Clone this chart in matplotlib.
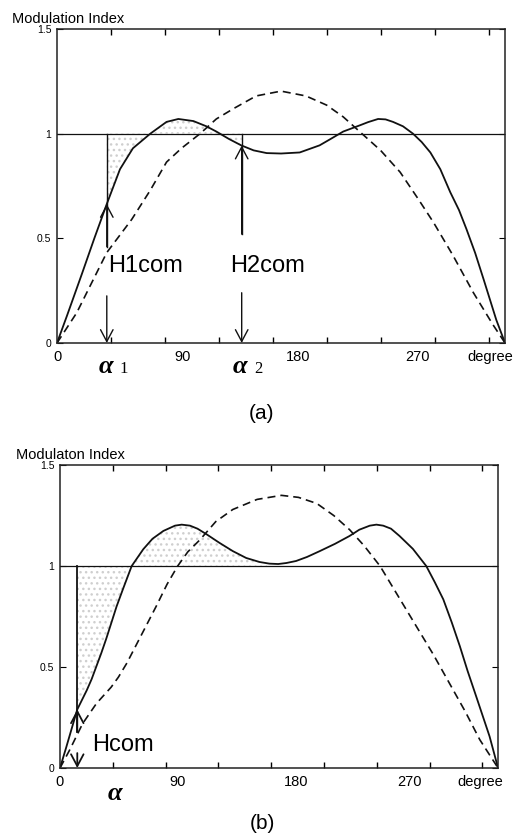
import matplotlib
matplotlib.use("Agg")
import matplotlib.pyplot as plt
import numpy as np

plt.rcParams.update({
    "font.family": ["Liberation Sans", "DejaVu Sans"],
    "xtick.direction": "in", "ytick.direction": "in",
    "axes.edgecolor": "#222222", "axes.linewidth": 1.1,
})

INK = "#111111"
HATCH = "#cfcfcf"

# ---- panel (a) data: degree vs modulation index ----
a_solid_x = [0, 8, 20, 30, 40, 50.6, 61, 75, 88, 97.5, 109.6, 120, 128, 138, 148, 158,
             168.5, 180, 195, 211, 220, 230, 243.5, 250, 258, 264, 270, 278, 286, 293,
             300, 308, 316, 323, 329, 336, 343, 353, 360]
a_solid_y = [0, 0.13, 0.33, 0.50, 0.664, 0.83, 0.93, 1.0, 1.056, 1.07, 1.06, 1.035, 1.01,
             0.975, 0.944, 0.92, 0.907, 0.905, 0.91, 0.944, 0.975, 1.01, 1.04, 1.055, 1.07,
             1.068, 1.056, 1.035, 1.0, 0.96, 0.91, 0.83, 0.72, 0.635, 0.544, 0.43, 0.30,
             0.11, 0]
a_dash_x = [0, 15.8, 40, 60, 75, 88, 100, 115, 128, 142, 160, 180, 200, 216.7, 230,
            243.5, 260, 275.7, 290, 302.5, 318, 334.6, 350, 360]
a_dash_y = [0, 0.144, 0.432, 0.59, 0.73, 0.864, 0.93, 1.0, 1.07, 1.12, 1.18, 1.203, 1.18,
            1.136, 1.08, 1.008, 0.92, 0.816, 0.69, 0.576, 0.42, 0.24, 0.09, 0]
a_alpha = [40, 148.4]

# ---- panel (b) data ----
b_solid_x = [0, 5, 14.2, 22, 26, 30, 34, 38, 42, 46.5, 52, 58.9, 68.4, 76, 85, 94.5, 100,
             106.8, 113, 120.5, 131, 142, 153, 164, 172, 179.3, 186, 194, 203, 213.5, 226,
             238, 246, 254.6, 260, 265.6, 272, 279, 290, 301, 308, 315, 322, 328.6, 335,
             342, 353, 360]
b_solid_y = [0, 0.1, 0.29, 0.385, 0.44, 0.505, 0.57, 0.64, 0.715, 0.80, 0.89, 1.0, 1.083,
             1.135, 1.174, 1.20, 1.205, 1.20, 1.185, 1.157, 1.115, 1.074, 1.04, 1.02, 1.012,
             1.01, 1.015, 1.025, 1.045, 1.074, 1.11, 1.149, 1.18, 1.20, 1.205, 1.20, 1.185,
             1.149, 1.085, 1.0, 0.92, 0.835, 0.72, 0.603, 0.48, 0.355, 0.157, 0]
b_dash_x = [0, 8, 18.6, 30, 42, 48, 55, 61, 67, 79, 88, 96.7, 105, 115, 128, 142, 162, 182,
            196, 211, 225, 238, 250, 263, 278, 293, 307, 320, 333, 345, 360]
b_dash_y = [0, 0.09, 0.22, 0.32, 0.40, 0.45, 0.52, 0.59, 0.66, 0.80, 0.91, 1.0, 1.07, 1.13,
            1.22, 1.28, 1.33, 1.35, 1.34, 1.31, 1.25, 1.18, 1.10, 1.0, 0.85, 0.70, 0.56,
            0.42, 0.28, 0.14, 0]
b_alpha = [14.2]
b_fill_end = 170

TICK_STEP = 43.4
a_xtick_pos = [0, 101, 194, 290, 348]
b_xtick_pos = [0, 97, 194, 287, 345]
xtick_labels = ["0", "90", "180", "270", "degree"]
ytick_pos = [0, 0.5, 1, 1.5]
ytick_labels = ["0", "0.5", "1", "1.5"]

fig = plt.figure(figsize=(5.24, 8.39), dpi=100)
ax_a = fig.add_axes([0.1088, 0.5912, 0.855, 0.3743])
ax_b = fig.add_axes([0.1145, 0.0846, 0.836, 0.3611])


def frame(ax, xtick_pos, ylabel):
    ax.set_xlim(0, 360)
    ax.set_ylim(0, 1.5)
    ax.set_xticks(xtick_pos, xtick_labels, fontsize=10.5)
    ax.set_xticks(np.arange(TICK_STEP, 360, TICK_STEP), minor=True)
    ax.tick_params(axis="x", which="major", length=0, pad=5)
    ax.tick_params(axis="x", which="minor", length=4, top=True, bottom=True, width=1)
    ax.set_yticks(ytick_pos, ytick_labels, fontsize=7.5)
    ax.tick_params(axis="y", length=4, left=True, right=True, pad=4)
    ax.axhline(1.0, color=INK, lw=0.9)
    ax.text(-0.1, 1.01, ylabel, transform=ax.transAxes, fontsize=10.5, ha="left", va="bottom")


def curves(ax, sx, sy, dx, dy):
    ax.plot(sx, sy, color=INK, lw=1.3)
    ax.plot(dx, dy, color=INK, lw=1.2, linestyle=(0, (4.8, 3)))


def hatch(ax, sx, sy, x0, x1):
    inner = [x for x in sx if x0 < x < x1]
    xs = [x0] + inner + [x1]
    ys = np.interp(xs, sx, sy)
    ax.fill_between(xs, ys, 1.0, facecolor="none", hatch="...", edgecolor=HATCH, linewidth=0)


def marker(ax, x, top_end, tip, low_start, arrow_lw=1.0):
    arrow = dict(arrowstyle="->,head_length=0.85,head_width=0.45", color=INK, lw=arrow_lw,
                 shrinkA=0, shrinkB=0)
    ax.plot([x, x], [1.0, top_end], color=INK, lw=arrow_lw)
    ax.annotate("", xy=(x, tip), xytext=(x, top_end), arrowprops=arrow)
    ax.annotate("", xy=(x, 0), xytext=(x, low_start), arrowprops=arrow)


def alpha_label(ax, x, y, sub):
    ax.text(x, y, "α", fontsize=19, family="Liberation Serif", style="italic",
            fontweight="bold", ha="center", va="center", clip_on=False)
    if sub:
        ax.text(x + 11, y - 0.012, sub, fontsize=12, family="Liberation Serif",
                ha="left", va="center", clip_on=False)


# panel (a)
frame(ax_a, a_xtick_pos, "Modulation Index")
hatch(ax_a, a_solid_x, a_solid_y, a_alpha[0], a_alpha[1])
curves(ax_a, a_solid_x, a_solid_y, a_dash_x, a_dash_y)
marker(ax_a, a_alpha[0], 0.46, np.interp(a_alpha[0], a_solid_x, a_solid_y), 0.225)
marker(ax_a, a_alpha[1], 0.52, np.interp(a_alpha[1], a_solid_x, a_solid_y), 0.24)
ax_a.text(41, 0.37, "H1com", fontsize=17, ha="left", va="center")
ax_a.text(139, 0.37, "H2com", fontsize=17, ha="left", va="center")
alpha_label(ax_a, a_alpha[0] - 1, -0.11, "1")
alpha_label(ax_a, a_alpha[1] - 1, -0.11, "2")
fig.text(0.5, 0.507, "(a)", fontsize=15, ha="center", va="center")

# panel (b)
frame(ax_b, b_xtick_pos, "Modulaton Index")
hatch(ax_b, b_solid_x, b_solid_y, b_alpha[0], b_fill_end)
curves(ax_b, b_solid_x, b_solid_y, b_dash_x, b_dash_y)
marker(ax_b, b_alpha[0], 0.18, np.interp(b_alpha[0], b_solid_x, b_solid_y), 0.074, arrow_lw=1.3)
ax_b.text(26, 0.116, "Hcom", fontsize=17, ha="left", va="center")
alpha_label(ax_b, 45, -0.125, "")
fig.text(0.5, 0.019, "(b)", fontsize=15, ha="center", va="center")

fig.savefig("out.png", dpi=100)
